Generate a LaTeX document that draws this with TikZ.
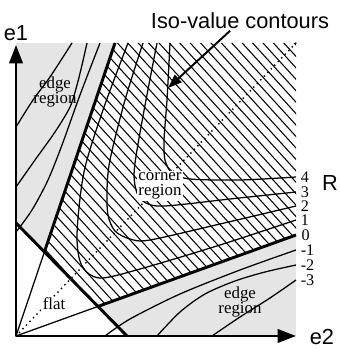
\documentclass[tikz,border=0pt]{standalone}
\usepackage{fontspec}
\setmainfont{Liberation Serif}
\setsansfont{Liberation Sans}
\usetikzlibrary{arrows.meta,positioning}
\definecolor{bggray}{gray}{0.9}

\begin{document}
\begin{tikzpicture}[x=0.025cm, y=0.025cm]
\tikzset{axis/.style={line width=1.8pt, -{Triangle[length=13pt, width=9.5pt]}}}
\tikzset{bound/.style={line width=2.1pt}}
\tikzset{contour/.style={line width=0.9pt}}
\tikzset{hatch/.style={line width=0.75pt}}
\tikzset{diag/.style={line width=1.4pt, line cap=round, dash pattern=on 0pt off 3.6pt}}
\tikzset{ptr/.style={line width=1.4pt, -{Triangle[length=10pt, width=7pt]}}}
\tikzset{lbl/.style={font=\sffamily\fontsize{15.5}{17}\selectfont, inner sep=1pt}}
\tikzset{regionlbl/.style={font=\fontsize{12}{10.6}\selectfont, align=center, inner sep=1pt}}
\tikzset{val/.style={font=\fontsize{11.5}{11}\selectfont, anchor=west, inner sep=0pt, xshift=3pt}}

\useasboundingbox (0,0) rectangle (340,350);

\coordinate (O) at (16,14);
\coordinate (tr) at (296,307);
\coordinate (f1) at (16,127);
\coordinate (f2) at (127,14);
\coordinate (u1) at (115,307);
\coordinate (l1) at (296,115);
\coordinate (j1) at (intersection of O--u1 and f1--f2);
\coordinate (j2) at (intersection of O--l1 and f1--f2);

% shaded edge regions, white flat and corner regions
\fill[bggray] (O) rectangle (tr);
\fill[white] (O) -- (f1) -- (f2) -- cycle;
\fill[white] (j1) -- (u1) -- (tr) -- (l1) -- (j2) -- cycle;

% hatching of the corner region
\begin{scope}
  \clip (j1) -- (u1) -- (tr) -- (l1) -- (j2) -- cycle;
  \foreach \i in {0,...,60}
    \draw[hatch] ({\i*10.4-300},320) -- ++(300,-330);
\end{scope}

% iso-value contours, corner region
\draw[contour] plot[smooth] coordinates {(128,307) (103,240) (84,178) (77,115) (82,84) (100,72) (140,81) (220,105) (296,130)} node[val] (v1) {1};
\draw[contour] plot[smooth] coordinates {(143,307) (125,250) (110,190) (107,160) (108,135) (115,119) (130,111) (150,110) (220,126) (296,144)} node[val] (v2) {2};
\draw[contour] plot[smooth] coordinates {(157,307) (146,250) (137,200) (134,175) (137,157) (146,147) (165,144) (230,151) (296,158)} node[val] (v3) {3};
\draw[contour] plot[smooth] coordinates {(170,307) (167,250) (164,210) (165,190) (172,177) (190,171) (240,170) (296,173)} node[val] (v4) {4};

% iso-value contours, edge regions
\draw[contour] plot[smooth] coordinates {(16,118) (32,140) (48,170) (62,205) (80,255) (100,307)};
\draw[contour] plot[smooth] coordinates {(16,163) (35,190) (55,218) (70,243) (77,265) (82,285) (87,307)};
\draw[contour] plot[smooth] coordinates {(16,223) (33,250) (50,273) (72,307)};
\draw[contour] plot[smooth] coordinates {(105,14) (130,31) (180,56) (240,80) (296,100)} node[val] (m1) {-1};
\draw[contour] plot[smooth] coordinates {(157,14) (180,38) (205,56) (235,69) (265,78) (296,85)} node[val] (m2) {-2};
\draw[contour] plot[smooth] coordinates {(212,14) (240,33) (270,52) (296,70)} node[val] (m3) {-3};

% region borders
\draw[contour] (O) -- (j1);
\draw[contour] (O) -- (j2);
\draw[bound] (f1) -- (f2);
\draw[bound] (j1) -- (u1);
\draw[bound] (j2) -- (l1) node[val] (v0) {0};
\draw[diag] (O) -- (tr);

\node[regionlbl] (edgeup) at (55,258) {edge\\region};
\node[regionlbl, fill=white] (corner) at (160,164) {corner\\region};
\node[regionlbl, fill=white] (flat) at (54,46) {flat};
\node[regionlbl] (edgelow) at (240,48) {edge\\region};

% axes
\draw[axis] (O) -- (16,305);
\draw[axis] (O) -- (296,14);
\node[lbl] (e1) at (16,317) {e1};
\node[lbl] (e2) at (322,13) {e2};
\node[lbl] (R) at (330,167) {R};

\node[lbl] (iso) at (240,329) {Iso-value contours};
\coordinate (c4) at (168,262);
\draw[ptr] ([xshift=-7pt]iso.south) -- (c4);
\end{tikzpicture}
\end{document}
